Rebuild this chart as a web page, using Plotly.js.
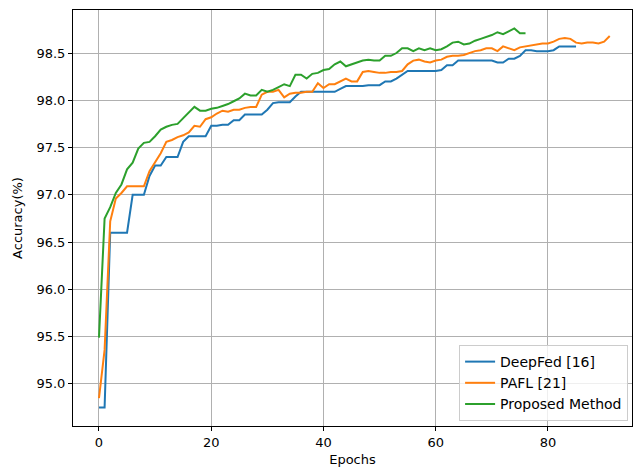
<!DOCTYPE html>
<html>
<head>
<meta charset="utf-8">
<script src="https://cdn.plot.ly/plotly-3.0.1.min.js"></script>
<style>html,body{margin:0;padding:0;background:#fff;}#chart{width:633px;height:469px;}</style>
</head>
<body>
<div id="chart"></div>
<script>
const seriesNames = ["DeepFed [16]", "PAFL [21]", "Proposed Method"];
const deepFed = [94.75,94.75,96.6,96.6,96.6,96.6,97.0,97.0,97.0,97.2,
  97.31,97.31,97.4,97.4,97.4,97.56,97.62,97.62,97.62,97.62,
  97.73,97.73,97.74,97.74,97.79,97.79,97.85,97.85,97.85,97.85,
  97.9,97.97,97.98,97.98,97.98,98.04,98.09,98.09,98.09,98.09,
  98.09,98.09,98.09,98.12,98.15,98.15,98.15,98.15,98.16,98.16,
  98.16,98.2,98.2,98.23,98.27,98.31,98.31,98.31,98.31,98.31,
  98.31,98.32,98.37,98.37,98.42,98.42,98.42,98.42,98.42,98.42,
  98.42,98.4,98.4,98.44,98.44,98.47,98.53,98.53,98.52,98.52,
  98.52,98.53,98.57,98.57,98.57,98.57];
const pafl = [94.85,95.36,96.72,96.96,97.02,97.09,97.09,97.09,97.09,97.25,
  97.34,97.44,97.56,97.58,97.61,97.63,97.66,97.73,97.72,97.8,
  97.82,97.86,97.89,97.88,97.9,97.9,97.92,97.93,97.93,98.06,
  98.09,98.09,98.11,98.03,98.07,98.08,98.08,98.09,98.09,98.18,
  98.13,98.17,98.17,98.2,98.23,98.2,98.2,98.3,98.31,98.3,
  98.29,98.29,98.3,98.3,98.31,98.38,98.42,98.43,98.41,98.4,
  98.42,98.43,98.46,98.47,98.47,98.48,98.5,98.52,98.53,98.55,
  98.55,98.52,98.57,98.55,98.53,98.56,98.57,98.58,98.59,98.6,
  98.6,98.62,98.65,98.66,98.65,98.61,98.6,98.61,98.61,98.6,
  98.62,98.68];
const proposed = [95.49,96.75,96.87,97.02,97.11,97.27,97.34,97.49,97.55,97.56,
  97.62,97.69,97.72,97.74,97.75,97.81,97.86,97.93,97.89,97.89,
  97.91,97.92,97.94,97.96,97.99,98.02,98.07,98.05,98.05,98.11,
  98.09,98.11,98.14,98.17,98.15,98.27,98.27,98.23,98.28,98.29,
  98.32,98.33,98.38,98.41,98.36,98.38,98.4,98.42,98.43,98.42,
  98.42,98.47,98.47,98.5,98.55,98.55,98.52,98.55,98.53,98.55,
  98.53,98.54,98.57,98.61,98.62,98.59,98.6,98.63,98.65,98.67,
  98.69,98.72,98.7,98.73,98.76,98.71,98.71];
const xTicks = [0,20,40,60,80];
const yTicks = [95.0,95.5,96.0,96.5,97.0,97.5,98.0,98.5];
const colors = ["#1f77b4", "#ff7f0e", "#2ca02c"];

const allSeries = [deepFed, pafl, proposed];
const traces = allSeries.map((vals, i) => ({
  type: "scatter", mode: "lines",
  x: vals.map((_, k) => k), y: vals,
  name: seriesNames[i],
  line: {color: colors[i], width: 2}
}));

const font = {family: "DejaVu Sans, sans-serif", size: 13, color: "#000"};
const legendFont = {family: "DejaVu Sans, sans-serif", size: 14, color: "#000"};
const axisCommon = {
  showline: true, linecolor: "#000", linewidth: 1, mirror: true,
  ticks: "outside", ticklen: 4, tickwidth: 1, tickcolor: "#000",
  showgrid: true, gridcolor: "#b0b0b0", gridwidth: 1,
  zeroline: false, tickfont: font
};
const layout = {
  width: 633, height: 469,
  margin: {l: 73, r: 1, t: 10, b: 43},
  paper_bgcolor: "#fff", plot_bgcolor: "#fff",
  font: font,
  showlegend: true,
  xaxis: Object.assign({}, axisCommon, {
    range: [-4.63, 94.97], tickmode: "array", tickvals: xTicks,
    ticktext: xTicks.map(String),
    title: {text: "Epochs", font: font, standoff: 6}
  }),
  yaxis: Object.assign({}, axisCommon, {
    range: [94.555, 98.955], tickmode: "array", tickvals: yTicks,
    ticktext: yTicks.map(v => v.toFixed(1)),
    title: {text: "Accuracy(%)", font: font, standoff: 10}
  }),
  legend: {
    x: 0.993, y: 0.012, xanchor: "right", yanchor: "bottom",
    bgcolor: "rgba(255,255,255,0.8)", bordercolor: "#cccccc", borderwidth: 1,
    font: legendFont, tracegroupgap: 0
  }
};
Plotly.newPlot("chart", traces, layout, {displayModeBar: false, staticPlot: true});
</script>
</body>
</html>
